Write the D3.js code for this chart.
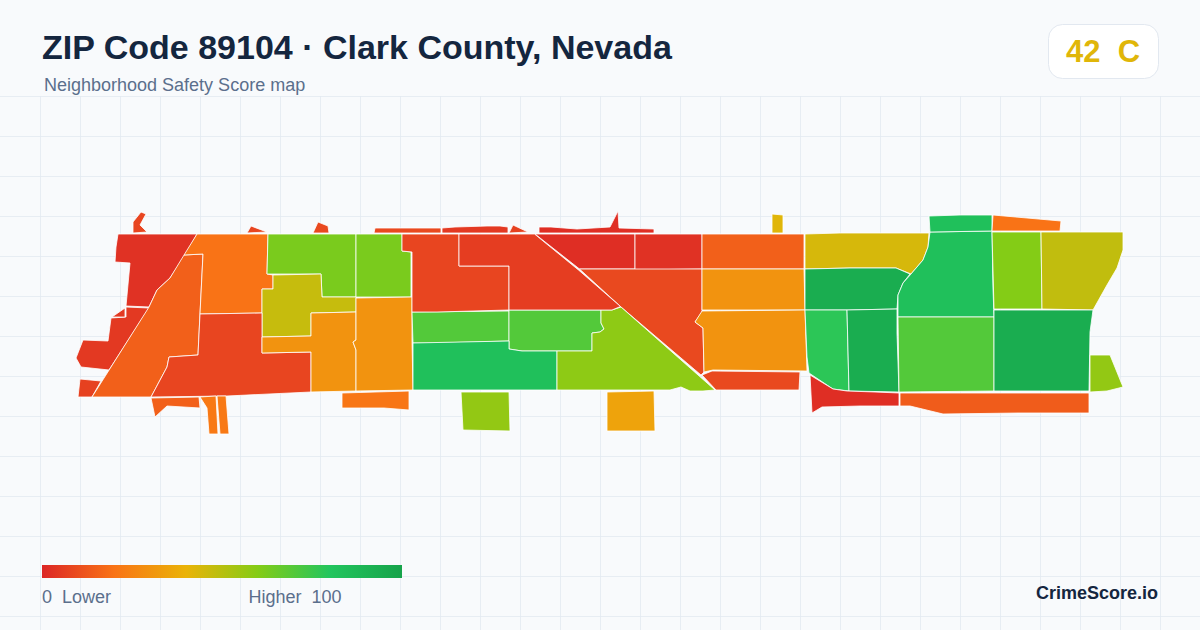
<!DOCTYPE html>
<html>
<head>
<meta charset="utf-8">
<title>ZIP Code 89104</title>
<script src="https://cdn.jsdelivr.net/npm/d3@7"></script>
<style>
    html, body { margin: 0; padding: 0; background: #f8fafc; }
    svg { display: block; }
    text { font-family: "Liberation Sans", Arial, sans-serif; white-space: pre; }
</style>
</head>
<body>
<svg id="chart" width="1200" height="630"></svg>
<script>
"use strict";

const titleText = "ZIP Code 89104 · Clark County, Nevada";
const subtitleText = "Neighborhood Safety Score map";
const overallScore = 42;
const overallGrade = "C";
const legendStops = [0, 20, 40, 60, 80, 100];
const legendColors = ["#dc2626", "#f97316", "#eab308", "#84cc16", "#22c55e", "#16a34a"];

// Safety score of each neighborhood, same order as areaRings
const areaScores = [
    3, 5, 7, 15, 20, 62, 62, 47, 8, 30, 30, 15, 22, 22, 21,
    8, 8, 9, 9, 5, 7, 2, 2, 3, 15, 9, 30, 30, 9,
    70, 70, 83, 58, 57, 35, 42, 44, 94, 78, 94, 83, 83,
    20, 60, 48, 70, 94, 57, 2, 14,
    8, 6, 5
];

// Outline of each neighborhood in map units
const areaRings = [
    [[48, 34], [127, 34], [115, 55], [100, 78], [87, 90], [79, 107], [56, 106], [60, 63], [45, 62], [46, 47]],
    [[56, 107], [79, 108], [39, 170], [11, 167], [6, 158], [13, 140], [38, 141], [41, 118], [56, 117]],
    [[10, 179], [31, 181], [22, 197], [8, 197]],
    [[22, 197], [79, 107], [87, 90], [100, 78], [114, 55], [133, 54], [130, 114], [128, 155], [99, 157], [97, 167], [81, 197]],
    [[127, 34], [198, 34], [197, 74], [203, 75], [203, 89], [192, 89], [192, 113], [130, 114], [133, 54], [114, 55]],
    [[198, 34], [286, 34], [286, 97], [252, 97], [251, 74], [197, 74]],
    [[286, 34], [332, 34], [332, 51], [341, 52], [341, 97], [286, 97]],
    [[203, 75], [251, 74], [252, 97], [286, 97], [286, 112], [241, 113], [241, 136], [192, 137], [192, 89], [203, 89]],
    [[130, 114], [192, 113], [192, 153], [241, 152], [241, 192], [157, 196], [81, 197], [97, 167], [99, 157], [128, 155]],
    [[192, 137], [241, 136], [241, 113], [286, 112], [286, 140], [283, 142], [286, 150], [286, 191], [241, 192], [241, 152], [192, 153]],
    [[286, 98], [342, 97], [342, 140], [343, 190], [286, 191], [286, 150], [283, 142], [286, 140]],
    [[81, 198], [129, 197], [130, 208], [97, 206], [85, 217]],
    [[130, 197], [146, 196], [148, 234], [139, 234], [137, 208]],
    [[147, 196], [156, 196], [159, 234], [150, 234]],
    [[272, 193], [339, 191], [339, 210], [314, 208], [272, 208]],
    [[63, 33], [63, 22], [71, 12], [76, 14], [70, 25], [77, 32]],
    [[177, 33], [181, 26], [197, 32]],
    [[243, 33], [248, 22], [258, 26], [259, 33]],
    [[304, 33], [305, 28], [371, 28], [371, 33]],
    [[372, 28], [385, 27], [417, 26], [430, 26], [438, 27], [438, 33], [372, 33]],
    [[439, 33], [443, 25], [458, 32]],
    [[469, 27], [481, 27], [507, 29], [540, 27], [548, 11], [549, 28], [584, 29], [584, 33], [469, 33]],
    [[465, 34], [565, 34], [565, 69], [509.5, 69]],
    [[565, 34], [632, 34], [632, 69], [565, 70]],
    [[632, 34], [734, 34], [734, 69], [632, 69]],
    [[509.5, 69], [632, 69], [632, 112], [625, 122], [633, 128], [634, 172], [631, 175], [551, 107]],
    [[632, 69], [734, 69], [735, 110], [632, 110]],
    [[632, 111], [735, 110], [737, 171], [643, 170], [634, 172], [633, 128], [625, 122]],
    [[632, 175], [642, 171], [730, 172], [729, 190], [646, 190]],
    [[342, 112], [439, 111], [439, 141], [367, 143], [343, 143]],
    [[439, 110], [531, 110], [531, 123], [534, 129], [530, 132], [522, 133], [522, 151], [452, 151], [439, 149]],
    [[343, 143], [439, 141], [439, 149], [452, 151], [487, 151], [487, 190], [343, 190]],
    [[487, 151], [522, 151], [522, 133], [530, 132], [534, 129], [531, 123], [531, 110], [542, 110], [551, 107], [645, 190], [633, 191], [620, 191], [611, 187], [600, 190], [487, 190]],
    [[391, 192], [439, 192], [440, 231], [393, 230]],
    [[537, 192], [584, 191], [585, 231], [537, 231]],
    [[702, 14], [713, 15], [713, 33], [702, 33]],
    [[735, 34], [770, 33], [859, 33], [858, 47], [853, 60], [841, 74], [826, 68], [780, 68], [735, 69]],
    [[735, 69], [780, 68], [826, 68], [840, 74], [833, 83], [828, 95], [827, 109], [778, 110], [735, 110]],
    [[735, 110], [777, 110], [779, 191], [763, 189], [739, 173], [737, 157]],
    [[777, 110], [827, 109], [827, 133], [829, 192], [779, 191]],
    [[860, 32], [922, 31], [923, 88], [924, 117], [828, 117], [828, 95], [833, 83], [841, 74], [853, 60], [858, 47]],
    [[859, 16], [890, 15], [922, 15], [922, 31], [860, 32]],
    [[923, 15], [991, 21], [990, 31], [922, 31]],
    [[922, 32], [971, 32], [972, 109], [924, 109]],
    [[971, 32], [1053, 32], [1053, 50], [1047, 68], [1037, 85], [1023, 110], [972, 109]],
    [[828, 117], [924, 117], [924, 191], [829, 192]],
    [[924, 110], [1023, 110], [1020, 132], [1019, 191], [924, 191], [924, 117]],
    [[1020, 155], [1040, 155], [1053, 187], [1037, 191], [1020, 192]],
    [[740, 175], [763, 189], [777, 191], [805, 192], [829, 193], [829, 206], [790, 206], [752, 207], [742, 213]],
    [[830, 193], [1019, 193], [1019, 213], [948, 213], [873, 214], [840, 206], [830, 206]],
    [[332, 34], [389, 34], [389, 66], [439, 66], [439, 110], [367, 112], [342, 112], [342, 52], [332, 51]],
    [[389, 34], [464.5, 34], [508.5, 70], [550.5, 106.5], [542, 110], [439, 110], [439, 66], [389, 66]],
    [[42, 117], [55, 108], [55, 117]]
];

const svg = d3.select("#chart");

// Background grid
const gridX = d3.range(40.5, 1200, 40);
const gridY = d3.range(96.5, 630, 40);
svg.append("g")
    .attr("stroke", "#e2e8f0")
    .attr("stroke-opacity", 0.75)
    .selectAll("line")
    .data(gridX)
    .join("line")
    .attr("x1", d => d)
    .attr("x2", d => d)
    .attr("y1", 96)
    .attr("y2", 630);
svg.append("g")
    .attr("stroke", "#e2e8f0")
    .attr("stroke-opacity", 0.75)
    .selectAll("line")
    .data(gridY)
    .join("line")
    .attr("x1", 0)
    .attr("x2", 1200)
    .attr("y1", d => d)
    .attr("y2", d => d);

// Map
const mapX = d3.scaleLinear().domain([0, 1060]).range([70, 1130]);
const mapY = d3.scaleLinear().domain([0, 240]).range([200, 440]);
const scoreColor = d3.scaleLinear()
    .domain(legendStops)
    .range(legendColors)
    .interpolate(d3.interpolateRgb);
const ringPath = d3.line()
    .x(d => mapX(d[0]))
    .y(d => mapY(d[1]))
    .curve(d3.curveLinearClosed);

svg.append("g")
    .selectAll("path")
    .data(areaRings)
    .join("path")
    .attr("d", d => ringPath(d))
    .attr("fill", (d, i) => scoreColor(areaScores[i]))
    .attr("stroke", "#ffffff")
    .attr("stroke-width", 0.8)
    .attr("stroke-linejoin", "round");

// Header
svg.append("text")
    .attr("x", 42)
    .attr("y", 59)
    .attr("font-size", 34)
    .attr("font-weight", 700)
    .attr("fill", "#14263f")
    .text(titleText);
svg.append("text")
    .attr("x", 44)
    .attr("y", 91)
    .attr("font-size", 18)
    .attr("fill", "#5b6f8c")
    .text(subtitleText);

// Overall score badge
svg.append("rect")
    .attr("x", 1048.5)
    .attr("y", 24.5)
    .attr("width", 110)
    .attr("height", 54)
    .attr("rx", 14)
    .attr("fill", "#ffffff")
    .attr("stroke", "#e2e8f0");
svg.append("text")
    .attr("x", 1103)
    .attr("y", 62)
    .attr("text-anchor", "middle")
    .attr("font-size", 31)
    .attr("font-weight", 700)
    .attr("fill", scoreColor(overallScore))
    .text(`${overallScore}  ${overallGrade}`);

// Legend
const legendX = d3.scaleLinear().domain([0, 100]).range([42, 402]);
const gradient = svg.append("defs")
    .append("linearGradient")
    .attr("id", "legend-gradient");
gradient.selectAll("stop")
    .data(legendStops)
    .join("stop")
    .attr("offset", d => `${d}%`)
    .attr("stop-color", d => scoreColor(d));
svg.append("rect")
    .attr("x", legendX(0))
    .attr("y", 565)
    .attr("width", legendX(100) - legendX(0))
    .attr("height", 13)
    .attr("fill", "url(#legend-gradient)");
svg.append("text")
    .attr("x", 42)
    .attr("y", 603)
    .attr("font-size", 18)
    .attr("fill", "#5b6f8c")
    .text("0  Lower");
svg.append("text")
    .attr("x", 341.5)
    .attr("y", 603)
    .attr("text-anchor", "end")
    .attr("font-size", 18)
    .attr("fill", "#5b6f8c")
    .text("Higher  100");
svg.append("text")
    .attr("x", 1158)
    .attr("y", 599)
    .attr("text-anchor", "end")
    .attr("font-size", 18)
    .attr("font-weight", 700)
    .attr("fill", "#14263f")
    .text("CrimeScore.io");
</script>
</body>
</html>
